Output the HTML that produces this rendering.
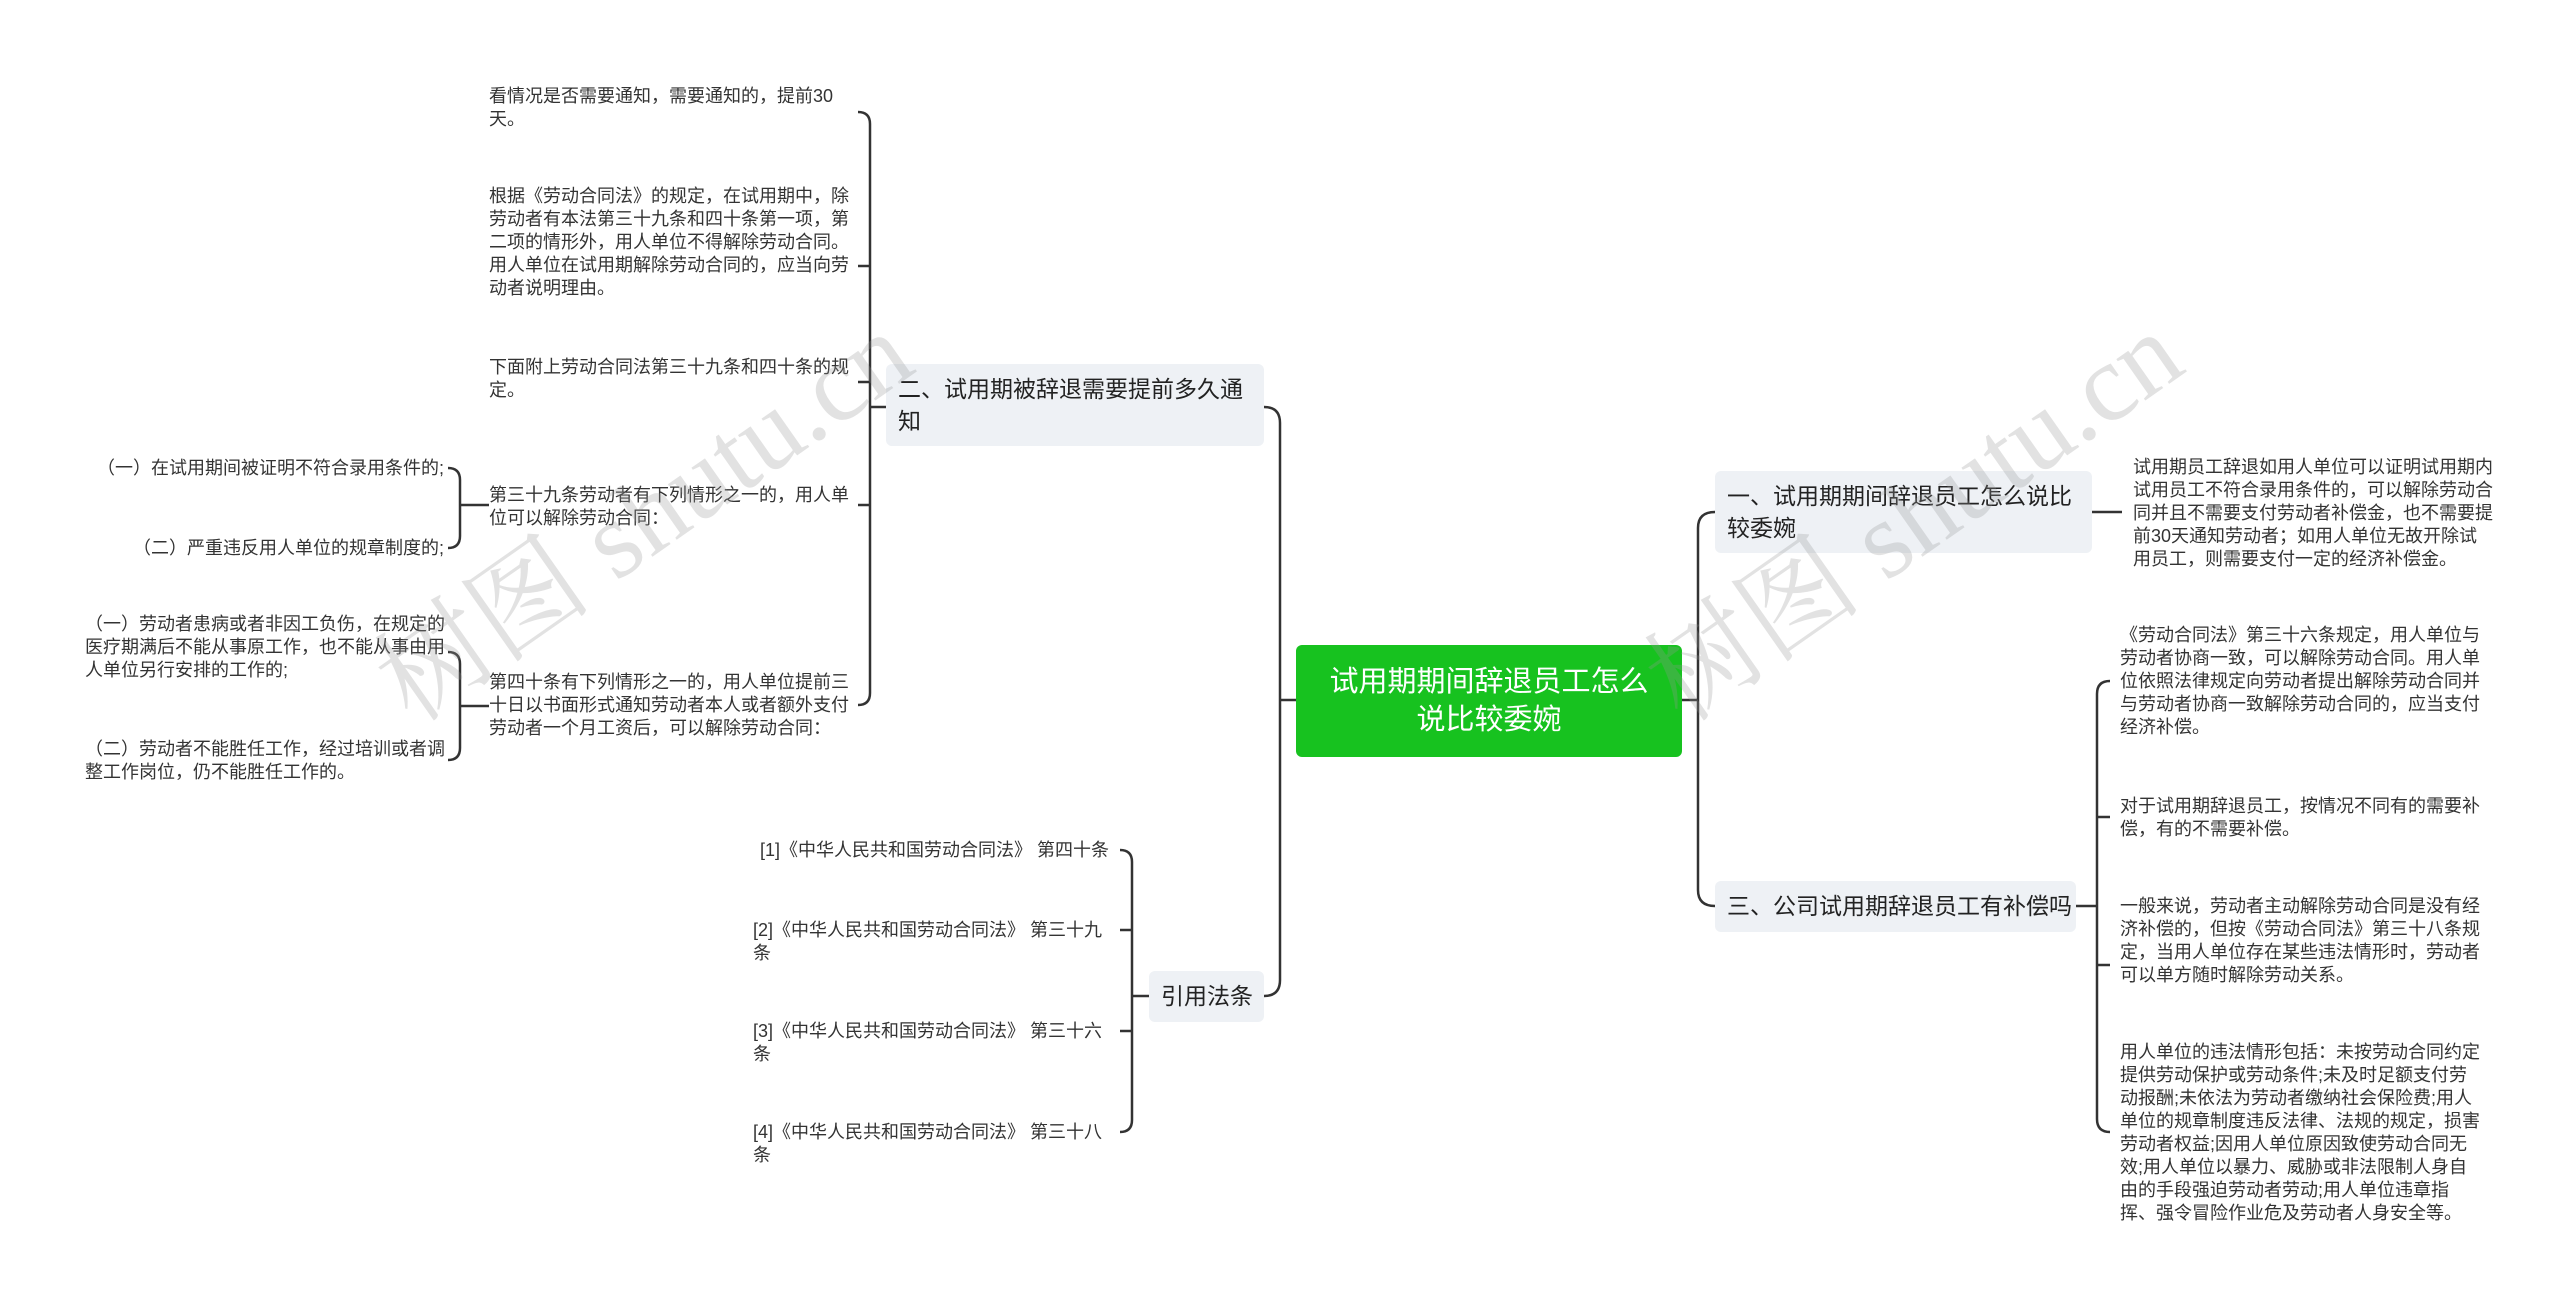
<!DOCTYPE html>
<html><head><meta charset="utf-8"><style>
html,body{margin:0;padding:0;background:#fff;}
#c{position:relative;width:2560px;height:1303px;overflow:hidden;font-family:"Liberation Sans","Noto Sans CJK SC",sans-serif;color:#333;}
.t{position:absolute;font-size:18px;line-height:23px;color:#333;}
.b{position:absolute;background:#eef1f5;border-radius:6px;font-size:23px;line-height:32px;color:#222;padding:9px 12px;box-sizing:border-box;white-space:nowrap;}
.wm{position:absolute;font-size:110px;color:rgba(150,150,150,0.28);font-family:"Liberation Serif","Noto Serif CJK SC",serif;transform:rotate(-35deg);white-space:nowrap;}
svg{position:absolute;left:0;top:0;}
</style></head><body><div id="c">
<svg width="2560" height="1303" fill="none" stroke="#333" stroke-width="2.5">
<path d="M1296 700 H1280"/>
<path d="M1264 407 Q1280 407 1280 423 L1280 980 Q1280 996 1264 996"/>
<path d="M1682 700 H1698"/>
<path d="M1715 512 Q1698 512 1698 528 L1698 890 Q1698 906 1715 906"/>
<path d="M2092 512 H2122"/>
<path d="M2076 906 H2097"/>
<path d="M2110 681 Q2097 681 2097 694 L2097 1119 Q2097 1132 2110 1132 M2097 817 H2110 M2097 965 H2110"/>
<path d="M886 407 H870"/>
<path d="M858 112 Q870 112 870 124 L870 693 Q870 705 858 705 M870 266 H858 M870 382 H858 M870 505 H858"/>
<path d="M489 505 H460"/>
<path d="M448 468 Q460 468 460 480 L460 536 Q460 548 448 548"/>
<path d="M489 706 H460"/>
<path d="M448 652 Q460 652 460 664 L460 748 Q460 760 448 760"/>
<path d="M1149 996 H1132"/>
<path d="M1120 850 Q1132 850 1132 862 L1132 1120 Q1132 1132 1120 1132 M1132 930 H1120 M1132 1031 H1120"/>
</svg>
<div style="position:absolute;left:1296px;top:645px;width:386px;height:112px;background:#17c21f;border-radius:6px;color:#fff;font-size:29px;line-height:38px;text-align:center;display:flex;align-items:center;justify-content:center;box-sizing:border-box;">试用期期间辞退员工怎么<br>说比较委婉</div>
<div class="b" style="left:886px;top:364px;width:378px;height:82px;">二、试用期被辞退需要提前多久通<br>知</div>
<div class="b" style="left:1149px;top:971px;width:115px;height:51px;">引用法条</div>
<div class="b" style="left:1715px;top:471px;width:377px;height:82px;">一、试用期期间辞退员工怎么说比<br>较委婉</div>
<div class="b" style="left:1715px;top:881px;width:361px;height:51px;">三、公司试用期辞退员工有补偿吗</div>
<div class="t" style="left:489px;top:85px;width:362px;">看情况是否需要通知，需要通知的，提前30天。</div>
<div class="t" style="left:489px;top:185px;width:362px;">根据《劳动合同法》的规定，在试用期中，除劳动者有本法第三十九条和四十条第一项，第二项的情形外，用人单位不得解除劳动合同。用人单位在试用期解除劳动合同的，应当向劳动者说明理由。</div>
<div class="t" style="left:489px;top:356px;width:362px;">下面附上劳动合同法第三十九条和四十条的规定。</div>
<div class="t" style="left:489px;top:484px;width:362px;">第三十九条劳动者有下列情形之一的，用人单位可以解除劳动合同：</div>
<div class="t" style="left:489px;top:671px;width:362px;">第四十条有下列情形之一的，用人单位提前三十日以书面形式通知劳动者本人或者额外支付劳动者一个月工资后，可以解除劳动合同：</div>
<div class="t" style="left:40px;top:457px;width:404px;text-align:right;">（一）在试用期间被证明不符合录用条件的;</div>
<div class="t" style="left:40px;top:537px;width:404px;text-align:right;">（二）严重违反用人单位的规章制度的;</div>
<div class="t" style="left:85px;top:613px;width:360px;">（一）劳动者患病或者非因工负伤，在规定的医疗期满后不能从事原工作，也不能从事由用人单位另行安排的工作的;</div>
<div class="t" style="left:85px;top:738px;width:360px;">（二）劳动者不能胜任工作，经过培训或者调整工作岗位，仍不能胜任工作的。</div>
<div class="t" style="left:700px;top:839px;width:409px;text-align:right;">[1]《中华人民共和国劳动合同法》 第四十条</div>
<div class="t" style="left:753px;top:919px;width:352px;">[2]《中华人民共和国劳动合同法》 第三十九条</div>
<div class="t" style="left:753px;top:1020px;width:352px;">[3]《中华人民共和国劳动合同法》 第三十六条</div>
<div class="t" style="left:753px;top:1121px;width:352px;">[4]《中华人民共和国劳动合同法》 第三十八条</div>
<div class="t" style="left:2133px;top:456px;width:362px;">试用期员工辞退如用人单位可以证明试用期内试用员工不符合录用条件的，可以解除劳动合同并且不需要支付劳动者补偿金，也不需要提前30天通知劳动者；如用人单位无故开除试用员工，则需要支付一定的经济补偿金。</div>
<div class="t" style="left:2120px;top:624px;width:362px;">《劳动合同法》第三十六条规定，用人单位与劳动者协商一致，可以解除劳动合同。用人单位依照法律规定向劳动者提出解除劳动合同并与劳动者协商一致解除劳动合同的，应当支付经济补偿。</div>
<div class="t" style="left:2120px;top:795px;width:362px;">对于试用期辞退员工，按情况不同有的需要补偿，有的不需要补偿。</div>
<div class="t" style="left:2120px;top:895px;width:362px;">一般来说，劳动者主动解除劳动合同是没有经济补偿的，但按《劳动合同法》第三十八条规定，当用人单位存在某些违法情形时，劳动者可以单方随时解除劳动关系。</div>
<div class="t" style="left:2120px;top:1041px;width:362px;">用人单位的违法情形包括：未按劳动合同约定提供劳动保护或劳动条件;未及时足额支付劳动报酬;未依法为劳动者缴纳社会保险费;用人单位的规章制度违反法律、法规的规定，损害劳动者权益;因用人单位原因致使劳动合同无效;用人单位以暴力、威胁或非法限制人身自由的手段强迫劳动者劳动;用人单位违章指挥、强令冒险作业危及劳动者人身安全等。</div>
<div class="wm" style="left:330px;top:430px;">树图 shutu.cn</div>
<div class="wm" style="left:1600px;top:430px;">树图 shutu.cn</div>
</div></body></html>
